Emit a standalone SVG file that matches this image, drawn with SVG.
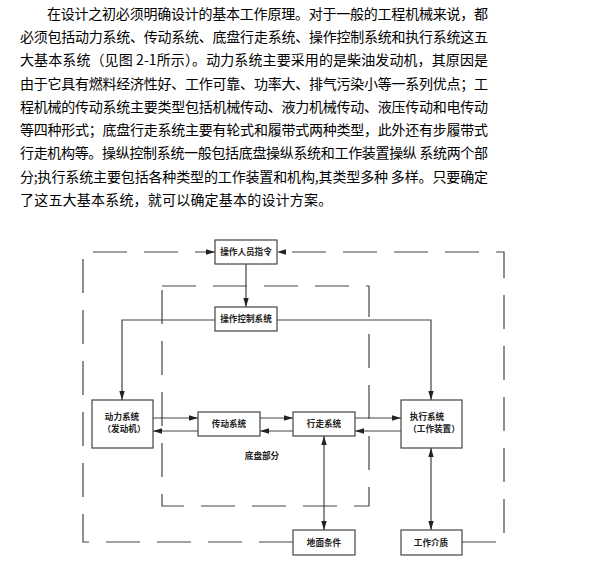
<svg xmlns="http://www.w3.org/2000/svg" width="610" height="566" viewBox="0 0 610 566">
<style>
.p{font-family:"Noto Sans CJK SC","Noto Sans",sans-serif;font-size:14px;fill:#000}
.box{fill:#fff;stroke:#444;stroke-width:1.2}
.lb{font-family:"Noto Sans CJK SC","Noto Sans",sans-serif;font-size:8.6px;fill:#222;text-anchor:middle;font-weight:bold}
.ln{fill:none;stroke:#444;stroke-width:1.2}
.ds{fill:none;stroke:#444;stroke-width:1.2;stroke-dasharray:34 17}
</style>
<defs>
<marker id="ah" markerUnits="userSpaceOnUse" markerWidth="9" markerHeight="7" refX="9" refY="3.5" orient="auto-start-reverse">
<path d="M0,0.8 L9,3.5 L0,6.2 z" fill="#222"/>
</marker>
</defs>
<g id="text">
<text class="p" x="47" y="18.6" textLength="441" lengthAdjust="spacing">在设计之初必须明确设计的基本工作原理。对于一般的工程机械来说，都</text>
<text class="p" x="20" y="41.9" textLength="468" lengthAdjust="spacing">必须包括动力系统、传动系统、底盘行走系统、操作控制系统和执行系统这五</text>
<text class="p" x="20" y="65.2" textLength="468" lengthAdjust="spacing">大基本系统（见图 2-1所示）。动力系统主要采用的是柴油发动机，其原因是</text>
<text class="p" x="20" y="88.5" textLength="468" lengthAdjust="spacing">由于它具有燃料经济性好、工作可靠、功率大、排气污染小等一系列优点；工</text>
<text class="p" x="20" y="111.8" textLength="468" lengthAdjust="spacing">程机械的传动系统主要类型包括机械传动、液力机械传动、液压传动和电传动</text>
<text class="p" x="20" y="135.1" textLength="468" lengthAdjust="spacing">等四种形式；底盘行走系统主要有轮式和履带式两种类型，此外还有步履带式</text>
<text class="p" x="20" y="158.4" textLength="468" lengthAdjust="spacing">行走机构等。操纵控制系统一般包括底盘操纵系统和工作装置操纵 系统两个部</text>
<text class="p" x="20" y="181.7" textLength="468" lengthAdjust="spacing">分;执行系统主要包括各种类型的工作装置和机构,其类型多种 多样。只要确定</text>
<text class="p" x="20" y="205" letter-spacing="0.2">了这五大基本系统，就可以确定基本的设计方案。</text>
</g>
<g id="connectors">
<path class="ds" d="M293,542 H83 V252 H215" marker-end="url(#ah)"/>
<path class="ds" d="M462,542 H504 V252 H277" marker-end="url(#ah)"/>
<rect class="ds" x="162" y="286" width="207" height="220"/>
<path class="ln" d="M246,264 V307" marker-end="url(#ah)"/>
<path class="ln" d="M215,320 H122 V400" marker-end="url(#ah)"/>
<path class="ln" d="M277,320 H431 V400" marker-end="url(#ah)"/>
<path class="ln" d="M153,418 H198" marker-end="url(#ah)"/>
<path class="ln" d="M198,431 H153" marker-end="url(#ah)"/>
<path class="ln" d="M260,418 H293" marker-end="url(#ah)"/>
<path class="ln" d="M293,431 H260" marker-end="url(#ah)"/>
<path class="ln" d="M355,418 H401" marker-end="url(#ah)"/>
<path class="ln" d="M401,431 H355" marker-end="url(#ah)"/>
<path class="ln" d="M324,436 V530" marker-start="url(#ah)" marker-end="url(#ah)"/>
<path class="ln" d="M431,448 V530" marker-start="url(#ah)" marker-end="url(#ah)"/>
</g>
<g id="n-operator"><rect class="box" x="215" y="240" width="62" height="24"/><text class="lb" x="246" y="255.2">操作人员指令</text></g>
<g id="n-control"><rect class="box" x="215" y="307" width="62" height="24"/><text class="lb" x="246" y="322.2">操作控制系统</text></g>
<g id="n-power"><rect class="box" x="92" y="400" width="61" height="48"/><text class="lb" x="122" y="420">动力系统</text><text class="lb" x="124" y="432">（发动机）</text></g>
<g id="n-trans"><rect class="box" x="198" y="412" width="62" height="24"/><text class="lb" x="229" y="427.2">传动系统</text></g>
<g id="n-walk"><rect class="box" x="293" y="412" width="62" height="24"/><text class="lb" x="324" y="427.2">行走系统</text></g>
<g id="n-exec"><rect class="box" x="401" y="400" width="61" height="48"/><text class="lb" x="427" y="420">执行系统</text><text class="lb" x="434" y="432">（工作装置）</text></g>
<g id="n-chassis"><text class="lb" x="262" y="459">底盘部分</text></g>
<g id="n-ground"><rect class="box" x="293" y="530" width="62" height="25"/><text class="lb" x="324" y="545.5">地面条件</text></g>
<g id="n-medium"><rect class="box" x="401" y="530" width="61" height="25"/><text class="lb" x="431" y="545.5">工作介质</text></g>
</svg>
